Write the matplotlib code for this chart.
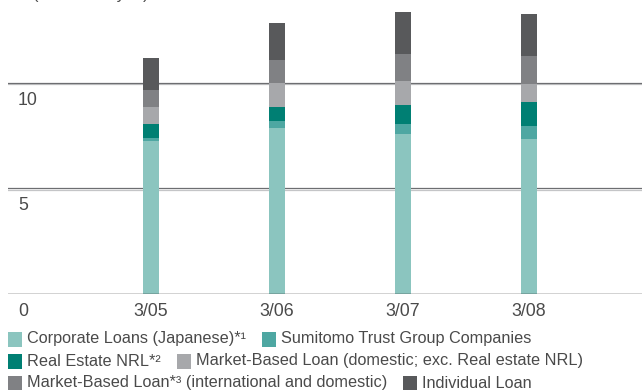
import matplotlib
matplotlib.use("Agg")
import matplotlib.pyplot as plt
import matplotlib.patheffects as pe
from matplotlib.patches import Rectangle
import numpy as np

plt.rcParams["font.family"] = ["Liberation Sans", "DejaVu Sans"]

# loan balance by category, trillions of yen
categories = ["3/05", "3/06", "3/07", "3/08"]
corporate = [7.27, 7.88, 7.60, 7.36]
sumitomo = [0.14, 0.33, 0.47, 0.61]
real_estate = [0.66, 0.67, 0.90, 1.14]
mbl_domestic = [0.81, 1.14, 1.14, 0.86]
mbl_intl = [0.80, 1.09, 1.28, 1.32]
individual = [1.52, 1.75, 1.99, 1.99]

series_labels = [
    "Corporate Loans (Japanese)*\u00b9",
    "Sumitomo Trust Group Companies",
    "Real Estate NRL*\u00b2",
    "Market-Based Loan (domestic; exc. Real estate NRL)",
    "Market-Based Loan*\u00b3 (international and domestic)",
    "Individual Loan",
]
colors = ["#8bc5bf", "#4ea7a2", "#007f73", "#a7a8ab", "#808184", "#58595b"]
yticks = [0, 5, 10]

TEXT = "#4a4a4a"
W, H = 642, 390

fig = plt.figure(figsize=(W / 100, H / 100), dpi=100)
ax = fig.add_axes([8 / W, (H - 294) / H, (W - 8) / W, 294 / H])

x = np.arange(len(categories))
series = [corporate, sumitomo, real_estate, mbl_domestic, mbl_intl, individual]
bottom = np.zeros(len(categories))
for vals, col in zip(series, colors):
    ax.bar(x, vals, width=0.127, bottom=bottom, color=col, zorder=3, linewidth=0)
    bottom += np.array(vals)

ax.set_xlim(-1.135, -1.135 + (W - 8) / 126)
ax.set_ylim(0, 13.93)

# grid lines with a light shadow underneath
for v in yticks[1:]:
    ax.axhline(v, color="#6d6e71", lw=0.9, zorder=1,
               path_effects=[pe.SimpleLineShadow(offset=(0, -0.8), shadow_color="#c4c5c7", alpha=1),
                             pe.Normal()])
ax.axhline(0, color="#231f20", lw=1.0, zorder=4)

for v in yticks:
    ax.annotate(str(v), (0, v), xycoords=("axes fraction", "data"),
                xytext=(10, -9), textcoords="offset pixels",
                ha="left", va="top", fontsize=12.8, color=TEXT)

for xi, lbl in zip(x, categories):
    ax.annotate(lbl, (xi, 0), xycoords="data", xytext=(0, -9),
                textcoords="offset pixels", ha="center", va="top",
                fontsize=12.8, color=TEXT)

for s in ax.spines.values():
    s.set_visible(False)
ax.set_xticks([])
ax.set_yticks([])

fig.text(33 / W, 1 + 1 / H, "(Trillions of yen)", ha="left", va="baseline",
         fontsize=11.7, color=TEXT)

# legend laid out in three rows, two items per row
rows = [(0, 1), (2, 3), (4, 5)]
row_y = [339, 361, 383]
renderer = fig.canvas.get_renderer()
for (a, b), yc in zip(rows, row_y):
    xpos = 8
    for i in (a, b):
        fig.patches.append(Rectangle((xpos / W, 1 - (yc + 7.5) / H), 14 / W, 15 / H,
                                     transform=fig.transFigure, color=colors[i],
                                     linewidth=0))
        t = fig.text((xpos + 19) / W, 1 - yc / H, series_labels[i], ha="left",
                     va="center", fontsize=11.7, color=TEXT)
        bb = t.get_window_extent(renderer)
        xpos = bb.x1 + 16

fig.savefig("out.png", dpi=100)
